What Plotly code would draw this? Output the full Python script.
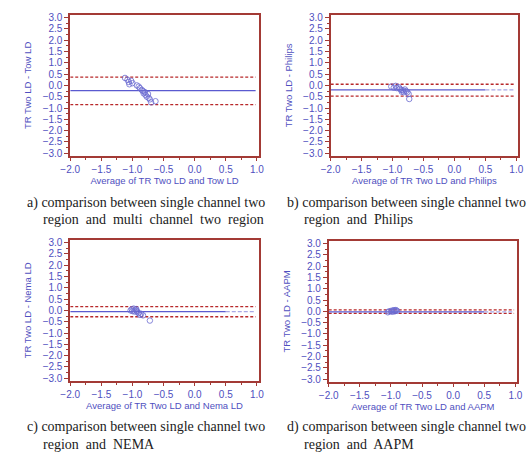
import plotly.graph_objects as go

W, H = 529, 455

# ---------------- data ----------------
a_x = [-1.12, -1.08, -1.06, -1.05, -1.02, -1.00, -0.93, -0.90, -0.88, -0.85,
       -0.83, -0.82, -0.80, -0.79, -0.77, -0.75, -0.74, -0.72, -0.70, -0.63]
a_y = [0.33, 0.25, 0.15, 0.05, 0.20, 0.10, 0.00, -0.05, -0.12, -0.20,
       -0.25, -0.35, -0.30, -0.42, -0.50, -0.38, -0.55, -0.62, -0.75, -0.70]

b_x = [-1.02, -0.98, -0.95, -0.93, -0.90, -0.88, -0.86, -0.85, -0.83, -0.82,
       -0.80, -0.78, -0.76, -0.74, -0.73]
b_y = [-0.05, -0.10, -0.02, -0.12, -0.08, -0.15, -0.20, -0.28, -0.22, -0.30,
       -0.18, -0.25, -0.30, -0.38, -0.60]

c_x = [-1.03, -1.01, -1.00, -0.98, -0.97, -0.95, -0.94, -0.93, -0.92, -0.90,
       -0.88, -0.86, -0.83, -0.72]
c_y = [0.00, 0.05, -0.03, 0.08, -0.05, 0.02, 0.06, -0.02, -0.08, -0.12,
       -0.20, -0.15, -0.22, -0.45]

d_x = [-1.05, -1.03, -1.00, -0.98, -0.97, -0.95, -0.94, -0.93, -0.92, -0.90]
d_y = [-0.04, 0.00, 0.02, -0.02, 0.04, 0.05, 0.00, 0.03, 0.06, 0.02]

means = [-0.23, -0.20, -0.05, -0.02]
uppers = [0.37, 0.05, 0.17, 0.07]
lowers = [-0.85, -0.47, -0.28, -0.09]

y_titles = ["TR Two LD - Tow LD", "TR Two LD - Philips", "TR Two LD - Nema LD", "TR Two LD - AAPM"]
x_titles = ["Average of TR Two LD and Tow LD", "Average of TR Two LD and Philips",
            "Average of TR Two LD and Nema LD", "Average of TR Two LD and AAPM"]
captions = [
    ["a) comparison between single channel two",
     "region&nbsp; and&nbsp; multi&nbsp; channel&nbsp; two&nbsp; region"],
    ["b) comparison between single channel two", "region&nbsp; and&nbsp; Philips"],
    ["c) comparison between single channel two", "region&nbsp; and&nbsp; NEMA"],
    ["d) comparison between single channel two", "region&nbsp; and&nbsp; AAPM"],
]

xs = [a_x, b_x, c_x, d_x]
ys = [a_y, b_y, c_y, d_y]
line_x = [-2.0, 0.98]
solid_end = [0.98, 0.5, 0.5, 0.5]

# ---------------- style ----------------
BLUE = "#4f4fc0"
PT = "#6b6bd0"
FRAME = "#a33a35"
RED = "#b8282a"

# plot boxes in pixels: (left, right, top, bottom)
boxes = [(62, 256, 12, 155), (330, 523, 12, 155), (62, 256, 240, 383), (328, 522, 241, 384)]

fig = go.Figure()
layout = dict(width=W, height=H, margin=dict(l=0, r=0, t=0, b=0),
              plot_bgcolor="white", paper_bgcolor="white", showlegend=False,
              font=dict(family="Liberation Sans, Arial", color=BLUE, size=10))

for i in range(4):
    l, r, t, b = boxes[i]
    xa = "xaxis" if i == 0 else f"xaxis{i+1}"
    ya = "yaxis" if i == 0 else f"yaxis{i+1}"
    xref = "x" if i == 0 else f"x{i+1}"
    yref = "y" if i == 0 else f"y{i+1}"
    layout[xa] = dict(domain=[l / W, r / W], range=[-2.0, 1.03], anchor=yref,
                      tickvals=[-2.0, -1.5, -1.0, -0.5, 0.0, 0.5, 1.0], tickformat=".1f",
                      ticks="outside", ticklen=3, tickcolor=FRAME, showgrid=False, zeroline=False,
                      showline=True, linecolor=FRAME, linewidth=1.6, mirror=True,
                      minor=dict(ticks="outside", ticklen=2, tickcolor=FRAME, dtick=0.25, tick0=0),
                      tickfont=dict(size=10, color=BLUE),
                      title=dict(text=x_titles[i], font=dict(size=9.5, color=BLUE), standoff=1))
    layout[ya] = dict(domain=[1 - b / H, 1 - t / H], range=[-3.12, 3.12], anchor=xref,
                      tickvals=[3.0, 2.5, 2.0, 1.5, 1.0, 0.5, 0.0, -0.5, -1.0, -1.5, -2.0, -2.5, -3.0],
                      tickformat=".1f",
                      ticks="outside", ticklen=4, tickcolor=FRAME, showgrid=False, zeroline=False,
                      showline=True, linecolor=FRAME, linewidth=1.6, mirror=True,
                      minor=dict(ticks="outside", ticklen=2, tickcolor=FRAME, dtick=0.25, tick0=0),
                      tickfont=dict(size=10, color=BLUE),
                      title=dict(text=y_titles[i], font=dict(size=9.5, color=BLUE), standoff=9))

    # limits of agreement
    for v in (uppers[i], lowers[i]):
        fig.add_trace(go.Scatter(x=line_x, y=[v, v], mode="lines", xaxis=xref, yaxis=yref,
                                 line=dict(color=RED, width=1.3, dash="3px,2px"), hoverinfo="skip"))
    # mean line
    fig.add_trace(go.Scatter(x=[line_x[0], solid_end[i]], y=[means[i], means[i]], mode="lines",
                             xaxis=xref, yaxis=yref, line=dict(color="#5a5ad0", width=1.3),
                             hoverinfo="skip"))
    if solid_end[i] < line_x[1]:
        fig.add_trace(go.Scatter(x=[solid_end[i], line_x[1]], y=[means[i], means[i]], mode="lines",
                                 xaxis=xref, yaxis=yref,
                                 line=dict(color="#a8a8e6", width=1.3, dash="4px,2px"),
                                 hoverinfo="skip"))
    # points
    fig.add_trace(go.Scatter(x=xs[i], y=ys[i], mode="markers", xaxis=xref, yaxis=yref,
                             marker=dict(symbol="circle-open", size=5.5, color=PT,
                                         line=dict(width=0.8, color=PT))))

fig.update_layout(**layout)

# captions
cap_pos = [(15, 32, 203, 219), (283, 301, 203, 219), (15, 32, 430, 447), (283, 301, 430, 447)]
for i in range(4):
    x1, x2, y1, y2 = cap_pos[i]
    for txt, xp, yp in ((captions[i][0], x1, y1), (captions[i][1], x2, y2)):
        fig.add_annotation(x=xp / W, y=1 - yp / H, xref="paper", yref="paper", text=txt,
                           showarrow=False, xanchor="left", yanchor="middle",
                           font=dict(family="Liberation Serif, DejaVu Serif", size=14,
                                     color="#222222"))

fig.write_html("out.html")
